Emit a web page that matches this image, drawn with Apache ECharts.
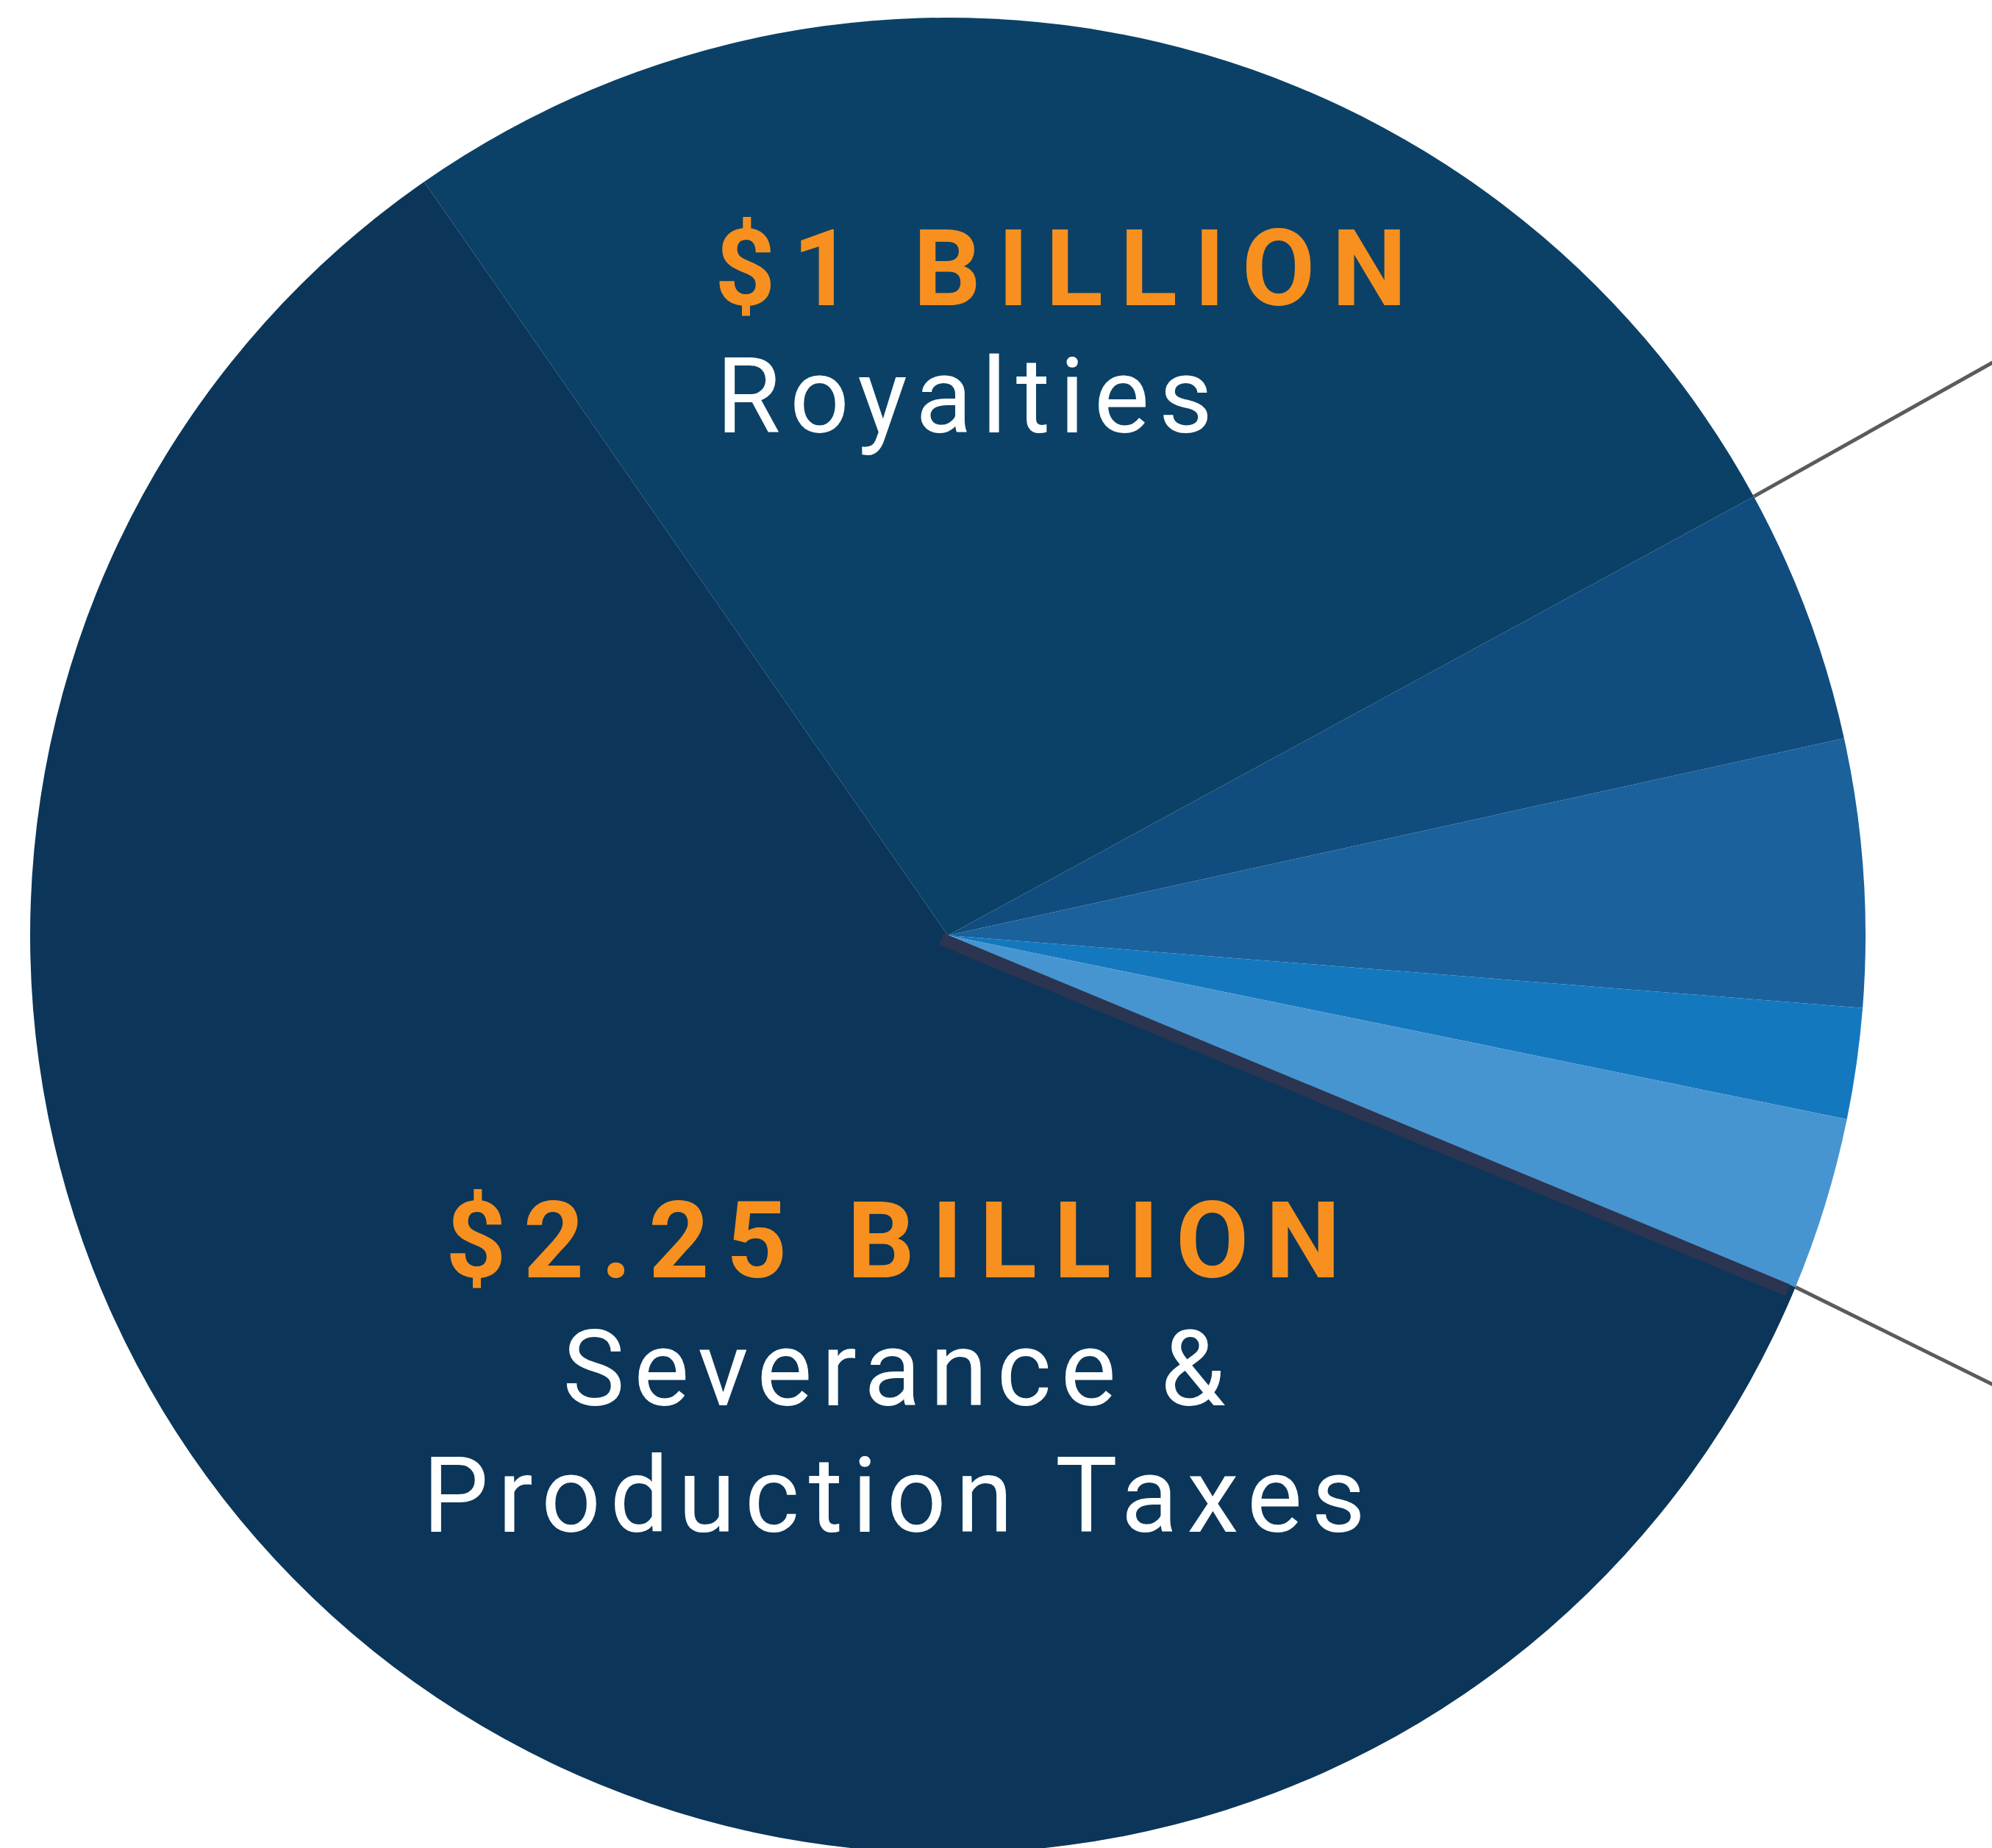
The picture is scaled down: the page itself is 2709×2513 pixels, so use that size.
<!DOCTYPE html>
<html><head><meta charset="utf-8">
<script src="https://cdn.jsdelivr.net/npm/echarts@6/dist/echarts.min.js"></script>
<style>html,body{margin:0;padding:0;background:#fff;overflow:hidden}#c{width:2709px;height:2513px}</style>
</head><body><div id="c"></div>
<script>
// ---- data (billions) ----
const categories = ['Royalties', 'Other revenue A', 'Other revenue B', 'Other revenue C', 'Other revenue D', 'Severance & Production Taxes'];
const values = [1.00, 0.168, 0.176, 0.073, 0.114, 2.21];
const sliceColors = ['#0b4166', '#114c7e', '#1b619b', '#1478bf', '#4795d0', '#0b3659'];
const headlines = ['$1 BILLION', '$2.25 BILLION'];
const captions = ['Royalties', 'Severance &', 'Production Taxes'];

// ---- layout ----
const CX = 1289, CY = 1272, R = 1248, START = 124.8;
const total = values.reduce((a, b) => a + b, 0);
function boundaryAngle(k) { // angle (deg, ccw from +x) after first k slices
  let s = 0; for (let i = 0; i < k; i++) s += values[i];
  return START - s / total * 360;
}
function edgePoint(deg, r) {
  const a = deg * Math.PI / 180;
  return [CX + r * Math.cos(a), CY - r * Math.sin(a)];
}
const upperA = boundaryAngle(1);
const lowerA = boundaryAngle(5);
const up0 = edgePoint(upperA, R);
const lo0 = edgePoint(lowerA, R);
function extend(p, deg, len) {
  const a = deg * Math.PI / 180;
  return [p[0] + len * Math.cos(a), p[1] - len * Math.sin(a)];
}
const up1 = extend(up0, 29.3, 500);
const lo1 = extend(lo0, -26.3, 500);
// dark band along severance boundary
const la = lowerA * Math.PI / 180;
const dir = [Math.cos(la), -Math.sin(la)];
const nrm = [-dir[1], dir[0]];
const off = 8;
const b0 = [CX - dir[0] * 6 + nrm[0] * off, CY - dir[1] * 6 + nrm[1] * off];
const bEnd = edgePoint(lowerA, R - 8);
const b1 = [bEnd[0] + nrm[0] * off, bEnd[1] + nrm[1] * off];

const chart = echarts.init(document.getElementById('c'), null, { renderer: 'svg' });
const ORANGE = '#f7901e';
const bold = 'bold 144px Roboto';
const reg = '142px Roboto';
chart.setOption({
  animation: false,
  backgroundColor: '#ffffff',
  series: [{
    type: 'pie',
    center: [CX, CY],
    radius: R,
    startAngle: START,
    clockwise: true,
    label: { show: false },
    labelLine: { show: false },
    emphasis: { disabled: true },
    itemStyle: { borderWidth: 0 },
    data: categories.map((n, i) => ({ name: n, value: values[i], itemStyle: { color: sliceColors[i] } }))
  }],
  graphic: [
    { type: 'line', z: 100, shape: { x1: up0[0], y1: up0[1], x2: up1[0], y2: up1[1] }, style: { stroke: '#5b5b5b', lineWidth: 5 } },
    { type: 'line', z: 100, shape: { x1: lo0[0], y1: lo0[1], x2: lo1[0], y2: lo1[1] }, style: { stroke: '#5b5b5b', lineWidth: 5 } },
    { type: 'line', z: 100, shape: { x1: b0[0], y1: b0[1], x2: b1[0], y2: b1[1] }, style: { stroke: '#2b3450', lineWidth: 17, lineCap: 'butt' } },
    { type: 'text', z: 101, x: 972, y: 365, style: { text: headlines[0], font: bold, fill: ORANGE, textAlign: 'left', textVerticalAlign: 'middle' } },
    { type: 'text', z: 101, x: 974, y: 539, style: { text: captions[0], font: reg, fill: '#ffffff', textAlign: 'left', textVerticalAlign: 'middle' } },
    { type: 'text', z: 101, x: 1226, y: 1687, style: { text: headlines[1], font: bold, fill: ORANGE, textAlign: 'center', textVerticalAlign: 'middle' } },
    { type: 'text', z: 101, x: 1222, y: 1862, style: { text: captions[1], font: reg, fill: '#ffffff', textAlign: 'center', textVerticalAlign: 'middle' } },
    { type: 'text', z: 101, x: 1222, y: 2034, style: { text: captions[2], font: reg, fill: '#ffffff', textAlign: 'center', textVerticalAlign: 'middle' } }
  ]
});
function spacing() {
  document.querySelectorAll('#c svg text').forEach(t => {
    const f = (t.getAttribute('fill') || getComputedStyle(t).fill || '').toLowerCase();
    const isOrange = f.indexOf('f7901e') >= 0 || f.indexOf('247') >= 0;
    t.style.letterSpacing = isOrange ? '23px' : '12.5px';
  });
}
spacing();
chart.on('finished', spacing);
</script>
</body></html>
